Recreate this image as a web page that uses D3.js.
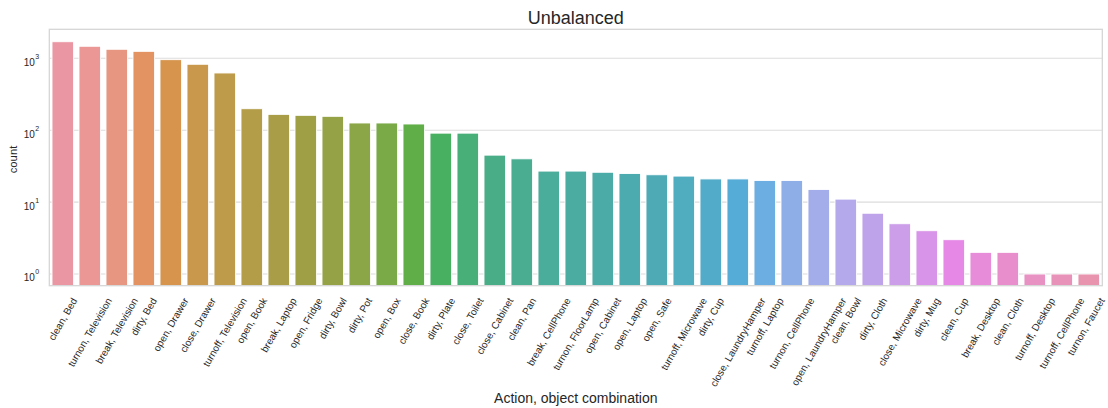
<!DOCTYPE html>
<html>
<head>
<meta charset="utf-8">
<script src="https://cdn.jsdelivr.net/npm/d3@7"></script>
<style>
  body { margin: 0; background: #fff; }
  svg { display: block; }
  text { font-family: "Liberation Sans", Arial, sans-serif; fill: #262626; }
</style>
</head>
<body>
<svg id="chart" width="1108" height="408"></svg>
<script>
// Action/object combinations, sorted by frequency
const categories = [
  "clean, Bed", "turnon, Television", "break, Television", "dirty, Bed",
  "open, Drawer", "close, Drawer", "turnoff, Television", "open, Book",
  "break, Laptop", "open, Fridge", "dirty, Bowl", "dirty, Pot",
  "open, Box", "close, Book", "dirty, Plate", "close, Toilet",
  "close, Cabinet", "clean, Pan", "break, CellPhone", "turnon, FloorLamp",
  "open, Cabinet", "open, Laptop", "open, Safe", "turnoff, Microwave",
  "dirty, Cup", "close, LaundryHamper", "turnoff, Laptop", "turnon, CellPhone",
  "open, LaundryHamper", "clean, Bowl", "dirty, Cloth", "close, Microwave",
  "dirty, Mug", "clean, Cup", "break, Desktop", "clean, Cloth",
  "turnoff, Desktop", "turnoff, CellPhone", "turnon, Faucet"
];

const counts = [
  1700, 1470, 1335, 1250,
  957, 826, 625, 199,
  166, 161, 156, 126,
  126, 122, 91, 91,
  45, 40, 27, 27,
  26, 25, 24, 23,
  21, 21, 20, 20,
  15, 11, 7, 5,
  4, 3, 2, 2,
  1, 1, 1
];

const yTickExponents = [0, 1, 2, 3];

const titleText = "Unbalanced";
const xLabelText = "Action, object combination";
const yLabelText = "count";

// ---- HUSL colour conversion (as used for the categorical palette) ----
const M = [
  [3.2406, -1.5372, -0.4986],
  [-0.9689, 1.8758, 0.0415],
  [0.0557, -0.2040, 1.0570]
];
const refU = 0.19784, refV = 0.46834, labE = 0.008856, labK = 903.3;

function maxChroma(L, H) {
  const hrad = H * Math.PI / 180;
  const sinH = Math.sin(hrad), cosH = Math.cos(hrad);
  const sub1 = Math.pow(L + 16, 3) / 1560896.0;
  const sub2 = sub1 > 0.008856 ? sub1 : L / 903.3;
  let result = Infinity;
  for (const [m1, m2, m3] of M) {
    const top = (0.99915 * m1 + 1.05122 * m2 + 1.14460 * m3) * sub2;
    const rbottom = 0.86330 * m3 - 0.17266 * m2;
    const lbottom = 0.12949 * m3 - 0.38848 * m1;
    const bottom = (rbottom * sinH + lbottom * cosH) * sub2;
    for (const t of [0, 1]) {
      const C = L * (top - 1.05122 * t) / (bottom + 0.17266 * sinH * t);
      if (C > 0 && C < result) result = C;
    }
  }
  return result;
}
function fInv(t) {
  return Math.pow(t, 3) > labE ? Math.pow(t, 3) : (116 * t - 16) / labK;
}
function fromLinear(c) {
  return c <= 0.0031308 ? 12.92 * c : 1.055 * Math.pow(c, 1 / 2.4) - 0.055;
}
function huslToRgb(h, s, l) {
  const C = maxChroma(l, h) / 100 * s;
  const hrad = h * Math.PI / 180;
  const U = Math.cos(hrad) * C, V = Math.sin(hrad) * C;
  const varY = fInv((l + 16) / 116);
  const varU = U / (13 * l) + refU;
  const varV = V / (13 * l) + refV;
  const Y = varY;
  const X = -(9 * Y * varU) / ((varU - 4) * varV - varU * varV);
  const Z = (9 * Y - 15 * varV * Y - varV * X) / (3 * varV);
  return M.map(r => Math.min(1, Math.max(0, fromLinear(r[0] * X + r[1] * Y + r[2] * Z))));
}
function huslPalette(n, h = 0.01, s = 0.9, l = 0.7) {
  const out = [];
  for (let i = 0; i < n; i++) {
    const hue = ((i / n + h) % 1) * 359;
    const [r, g, b] = huslToRgb(hue, s * 99, l * 99);
    // reduce saturation to 75%
    const c = d3.hsl(d3.rgb(r * 255, g * 255, b * 255));
    c.s *= 0.75;
    out.push(c.formatHex());
  }
  return out;
}

// ---- Layout ----
const W = 1108, Hgt = 408;
const margin = { left: 49.3, right: W - 1102.3, top: 29.3, bottom: Hgt - 285.7 };
const width = W - margin.left - margin.right;
const height = Hgt - margin.top - margin.bottom;

const svg = d3.select("#chart");
const g = svg.append("g").attr("transform", `translate(${margin.left},${margin.top})`);

const x = d3.scaleBand()
  .domain(categories)
  .range([0, width])
  .paddingInner(0.2)
  .paddingOuter(0.1);

const y = d3.scaleLog()
  .domain([0.6875, 2531])
  .range([height, 0]);

const color = d3.scaleOrdinal()
  .domain(categories)
  .range(huslPalette(categories.length));

const gridColor = "#dcdcdc";

// horizontal grid lines
g.append("g")
  .selectAll("line")
  .data(yTickExponents)
  .join("line")
  .attr("x1", 0)
  .attr("x2", width)
  .attr("y1", d => y(Math.pow(10, d)))
  .attr("y2", d => y(Math.pow(10, d)))
  .attr("stroke", gridColor)
  .attr("stroke-width", 1.1);

// bars
g.append("g")
  .selectAll("rect")
  .data(categories.map((c, i) => ({ c, v: counts[i] })))
  .join("rect")
  .attr("x", d => x(d.c))
  .attr("width", x.bandwidth())
  .attr("y", d => y(d.v))
  .attr("height", d => height - y(d.v))
  .attr("fill", d => color(d.c))
  .attr("stroke", "#ffffff")
  .attr("stroke-width", 0.9);

// frame
g.append("rect")
  .attr("x", 0).attr("y", 0)
  .attr("width", width).attr("height", height)
  .attr("fill", "none")
  .attr("stroke", "#d6d6d6")
  .attr("stroke-width", 1.3);

// y axis tick labels (10^n)
const yTicks = g.append("g")
  .selectAll("text")
  .data(yTickExponents)
  .join("text")
  .attr("x", -15)
  .attr("y", d => y(Math.pow(10, d)) + 7.5)
  .attr("text-anchor", "start")
  .style("font-size", "10px")
  .text("10");
yTicks.append("tspan")
  .attr("dy", -7)
  .attr("dx", 0.5)
  .style("font-size", "7px")
  .text(d => String(d));
// right-align the whole label (base + exponent)
yTicks.each(function () {
  const bb = this.getBBox();
  d3.select(this).attr("x", -10 - bb.width);
});

// x axis tick labels, rotated 60° with their bounding box centred under the bar
const labelTop = height + 10;
const ang = 60 * Math.PI / 180;
const fs = 10;
g.append("g")
  .selectAll("text")
  .data(categories)
  .join("text")
  .style("font-size", fs + "px")
  .attr("text-anchor", "middle")
  .attr("dominant-baseline", "central")
  .text(d => d)
  .each(function (d) {
    const w = this.getComputedTextLength();
    const h = fs * 1.15;
    const H = w * Math.sin(ang) + h * Math.cos(ang);
    let cx = x(d) + x.bandwidth() / 2;
    const cy = labelTop + H / 2;
    const sel = d3.select(this).attr("x", 0).attr("y", 0);
    sel.attr("transform", `translate(${cx},${cy}) rotate(-60)`);
    // keep the label inside the canvas
    const r = this.getBoundingClientRect();
    const overflow = r.right - (W - 1);
    if (overflow > 0) {
      cx -= overflow;
      sel.attr("transform", `translate(${cx},${cy}) rotate(-60)`);
    }
  });

// axis labels and title
svg.append("text")
  .attr("x", margin.left + width / 2)
  .attr("y", 403.3)
  .attr("text-anchor", "middle")
  .style("font-size", "14px")
  .text(xLabelText);

svg.append("text")
  .attr("transform", `translate(17,159.5) rotate(-90)`)
  .attr("text-anchor", "middle")
  .style("font-size", "11.3px")
  .text(yLabelText);

svg.append("text")
  .attr("x", margin.left + width / 2)
  .attr("y", 23.5)
  .attr("text-anchor", "middle")
  .style("font-size", "18px")
  .text(titleText);
</script>
</body>
</html>
